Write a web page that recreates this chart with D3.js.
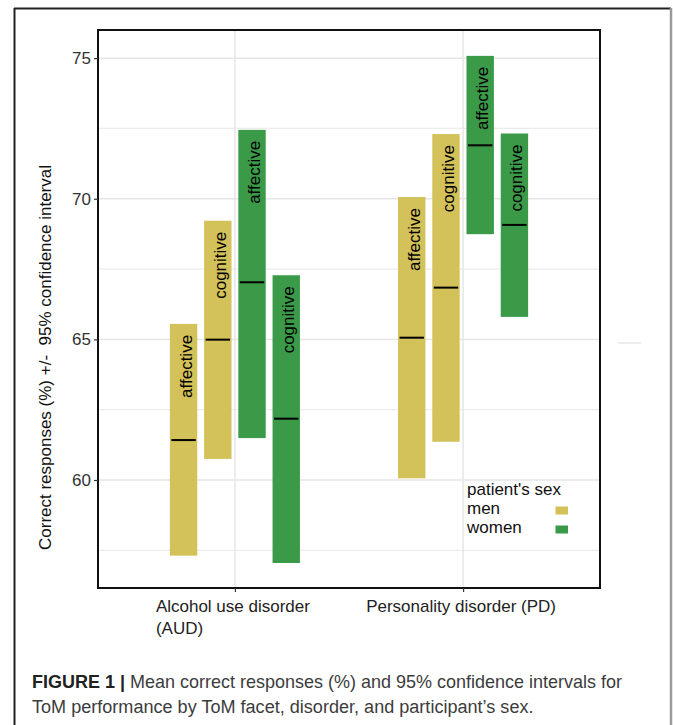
<!DOCTYPE html>
<html>
<head>
<meta charset="utf-8">
<script src="https://cdn.jsdelivr.net/npm/d3@7"></script>
<style>
  html, body { margin: 0; padding: 0; background: #fff; }
  svg { display: block; }
  text { font-family: "Liberation Sans", Arial, Helvetica, sans-serif; }
</style>
</head>
<body>
<svg id="chart" width="673" height="725"></svg>
<script>
// ---------- data ----------
const disorders = ["AUD", "PD"];
const disorderLabels = [["Alcohol use disorder", "(AUD)"], ["Personality disorder (PD)"]];
const groups = ["men affective", "men cognitive", "women affective", "women cognitive"];
const groupSex = ["men", "men", "women", "women"];
const groupFacet = ["affective", "cognitive", "affective", "cognitive"];
// values per group, ordered as disorders [AUD, PD]
const meanMenAffective = [61.42, 65.06];
const lowerMenAffective = [57.31, 60.06];
const upperMenAffective = [65.55, 70.06];
const meanMenCognitive = [64.99, 66.84];
const lowerMenCognitive = [60.75, 61.36];
const upperMenCognitive = [69.22, 72.30];
const meanWomenAffective = [67.03, 71.90];
const lowerWomenAffective = [61.49, 68.74];
const upperWomenAffective = [72.45, 75.08];
const meanWomenCognitive = [62.18, 69.07];
const lowerWomenCognitive = [57.05, 65.80];
const upperWomenCognitive = [67.28, 72.32];
const yTicks = [60, 65, 70, 75];
const yMinorTicks = [57.5, 62.5, 67.5, 72.5];
const sexes = ["men", "women"];
const legendTitle = "patient's sex";
const yTitle = "Correct responses (%) +/-  95% confidence interval";
const captionBold = "FIGURE 1 |";
const captionLine1 = " Mean correct responses (%) and 95% confidence intervals for";
const captionLine2 = "ToM performance by ToM facet, disorder, and participant\u2019s sex.";

const means = [meanMenAffective, meanMenCognitive, meanWomenAffective, meanWomenCognitive];
const lowers = [lowerMenAffective, lowerMenCognitive, lowerWomenAffective, lowerWomenCognitive];
const uppers = [upperMenAffective, upperMenCognitive, upperWomenAffective, upperWomenCognitive];

const rows = [];
groups.forEach((g, gi) => disorders.forEach((d, di) => rows.push({
  group: g, sex: groupSex[gi], facet: groupFacet[gi], disorder: d,
  mean: means[gi][di], lower: lowers[gi][di], upper: uppers[gi][di]
})));

// ---------- layout ----------
const svg = d3.select("#chart");
const panel = { left: 98, right: 600, top: 30, bottom: 588 };
const color = d3.scaleOrdinal().domain(sexes).range(["#d3c159", "#3a9a48"]);

const x = d3.scalePoint().domain(disorders).range([panel.left, panel.right]).padding(0.6);
const step = x.step();
const xSub = d3.scaleBand().domain(groups).range([-0.3 * step, 0.3 * step])
  .paddingInner(0.2).paddingOuter(0.1);
const y = d3.scaleLinear().domain([56.16, 76.0]).range([panel.bottom, panel.top]);

// outer figure frame
svg.append("line").attr("x1", 14.5).attr("x2", 14.5).attr("y1", 8).attr("y2", 725)
  .attr("stroke", "#222").attr("stroke-width", 2);
svg.append("line").attr("x1", 14).attr("x2", 671).attr("y1", 8.5).attr("y2", 8.5)
  .attr("stroke", "#222").attr("stroke-width", 2);
svg.append("line").attr("x1", 671).attr("x2", 671).attr("y1", 8).attr("y2", 725)
  .attr("stroke", "#9a9a9a").attr("stroke-width", 2.5);
// small stray mark at right of the panel
svg.append("line").attr("x1", 618).attr("x2", 641).attr("y1", 343).attr("y2", 343)
  .attr("stroke", "#e2e2e2").attr("stroke-width", 1.2);

// gridlines
const grid = svg.append("g");
grid.selectAll("line.minor").data(yMinorTicks).join("line")
  .attr("x1", panel.left).attr("x2", panel.right)
  .attr("y1", d => y(d)).attr("y2", d => y(d))
  .attr("stroke", "#ececec").attr("stroke-width", 1.2);
grid.selectAll("line.major").data(yTicks).join("line")
  .attr("x1", panel.left).attr("x2", panel.right)
  .attr("y1", d => y(d)).attr("y2", d => y(d))
  .attr("stroke", "#e6e6e6").attr("stroke-width", 1.5);
grid.selectAll("line.vert").data(disorders).join("line")
  .attr("x1", d => x(d)).attr("x2", d => x(d))
  .attr("y1", panel.top).attr("y2", panel.bottom)
  .attr("stroke", "#e6e6e6").attr("stroke-width", 1.5);

// bars
const bars = svg.append("g");
const bw = xSub.bandwidth();
bars.selectAll("rect").data(rows).join("rect")
  .attr("x", d => x(d.disorder) + xSub(d.group))
  .attr("width", bw)
  .attr("y", d => y(d.upper))
  .attr("height", d => y(d.lower) - y(d.upper))
  .attr("fill", d => color(d.sex));
bars.selectAll("line").data(rows).join("line")
  .attr("x1", d => x(d.disorder) + xSub(d.group) + 1.5)
  .attr("x2", d => x(d.disorder) + xSub(d.group) + bw - 1.5)
  .attr("y1", d => y(d.mean)).attr("y2", d => y(d.mean))
  .attr("stroke", "#000").attr("stroke-width", 2);
bars.selectAll("text").data(rows).join("text")
  .attr("transform", d => `translate(${x(d.disorder) + xSub(d.group) + bw / 2 + 8},${y(d.upper) + 11}) rotate(-90)`)
  .attr("text-anchor", "end")
  .attr("font-size", 17)
  .attr("fill", "#000")
  .text(d => d.facet);

// panel border
svg.append("rect")
  .attr("x", panel.left).attr("y", panel.top)
  .attr("width", panel.right - panel.left).attr("height", panel.bottom - panel.top)
  .attr("fill", "none").attr("stroke", "#111").attr("stroke-width", 2);

// y axis
const yAxis = svg.append("g").attr("transform", `translate(${panel.left},0)`)
  .call(d3.axisLeft(y).tickValues(yTicks).tickSize(4).tickPadding(3).tickFormat(d3.format("d")));
yAxis.select(".domain").remove();
yAxis.selectAll(".tick line").attr("stroke", "#333").attr("stroke-width", 1.2);
yAxis.selectAll(".tick text").attr("font-size", 17).attr("fill", "#333")
  .attr("font-family", "'Liberation Sans', Arial, sans-serif");

// x axis
const xAxis = svg.append("g").attr("transform", `translate(0,${panel.bottom})`)
  .call(d3.axisBottom(x).tickSize(4).tickFormat(""));
xAxis.select(".domain").remove();
xAxis.selectAll(".tick line").attr("stroke", "#333").attr("stroke-width", 1.2);

const xl = svg.append("g");
disorders.forEach((d, i) => {
  const lines = disorderLabels[i];
  const t = xl.append("text").attr("font-size", 17).attr("fill", "#222");
  lines.forEach((ln, j) => t.append("tspan").attr("y", 611.5 + j * 22.5).text(ln));
  const first = t.select("tspan").node().getComputedTextLength();
  const left = x(d) - first / 2 - 2;
  t.selectAll("tspan").attr("x", left);
});

// y title
svg.append("text")
  .attr("transform", "translate(50.5,357.5) rotate(-90)")
  .attr("text-anchor", "middle")
  .attr("font-size", 17)
  .attr("fill", "#111")
  .style("white-space", "pre")
  .text(yTitle);

// legend
const lg = svg.append("g");
lg.append("text").attr("x", 467).attr("y", 495).attr("font-size", 17).attr("fill", "#111").text(legendTitle);
sexes.forEach((s, i) => {
  lg.append("text").attr("x", 467).attr("y", 514 + i * 19).attr("font-size", 17).attr("fill", "#111").text(s);
  lg.append("rect").attr("x", 555.5).attr("y", 506.5 + i * 19).attr("width", 12.5).attr("height", 8)
    .attr("fill", color(s));
});

// caption
function captionLine(parts, baseline, targetWidth) {
  const g = svg.append("g");
  const t = g.append("text").attr("x", 0).attr("y", 0).attr("font-size", 19)
    .style("font-family", "'Liberation Sans Narrow', 'Arial Narrow', 'Liberation Sans', sans-serif")
    .style("white-space", "pre");
  parts.forEach(p => t.append("tspan").attr("font-weight", p.bold ? "bold" : "normal")
    .attr("fill", p.bold ? "#222" : "#3c3c3c").text(p.text));
  const w = t.node().getComputedTextLength();
  g.attr("transform", `translate(32,${baseline}) scale(${targetWidth / w},1)`);
}
captionLine([{ text: captionBold, bold: true }, { text: captionLine1, bold: false }], 688, 590);
captionLine([{ text: captionLine2, bold: false }], 713, 502);
</script>
</body>
</html>
